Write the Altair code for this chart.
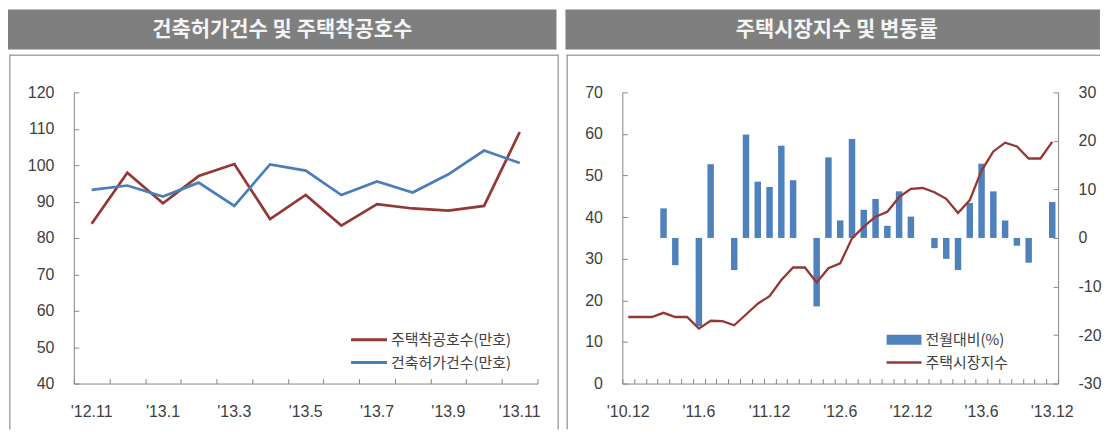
import altair as alt
import pandas as pd

# ---------------- data ----------------
months_left = ["'12.11", "'12.12", "'13.1", "'13.2", "'13.3", "'13.4", "'13.5",
               "'13.6", "'13.7", "'13.8", "'13.9", "'13.10", "'13.11"]
housing_starts = [83.9, 97.9, 89.5, 97.0, 100.3, 85.2, 91.8, 83.4, 89.3, 88.1, 87.5, 88.8, 109.1]
building_permits = [93.2, 94.4, 91.4, 95.2, 88.8, 100.2, 98.5, 91.8, 95.5, 92.5, 97.5, 104.0, 100.6]
left_shown_labels = ["'12.11", "'13.1", "'13.3", "'13.5", "'13.7", "'13.9", "'13.11"]
left_series = ["주택착공호수(만호)", "건축허가건수(만호)"]
left_colors = ["#953735", "#4a7ebb"]
left_y_ticks = [40, 50, 60, 70, 80, 90, 100, 110, 120]

months_right = ["'10.12",
                "'11.1", "'11.2", "'11.3", "'11.4", "'11.5", "'11.6",
                "'11.7", "'11.8", "'11.9", "'11.10", "'11.11", "'11.12",
                "'12.1", "'12.2", "'12.3", "'12.4", "'12.5", "'12.6",
                "'12.7", "'12.8", "'12.9", "'12.10", "'12.11", "'12.12",
                "'13.1", "'13.2", "'13.3", "'13.4", "'13.5", "'13.6",
                "'13.7", "'13.8", "'13.9", "'13.10", "'13.11", "'13.12"]
mom_change = [0, 0, 0, 6.1, -5.6, 0, -18.2, 15.2, 0, -6.6, 21.3, 11.6, 10.5,
              19.0, 11.9, 0, -14.1, 16.6, 3.6, 20.4, 5.8, 8.0, 2.5, 9.6, 4.4,
              0, -2.1, -4.3, -6.6, 7.2, 15.3, 9.6, 3.6, -1.6, -5.1, 0, 7.4]
market_index = [16, 16, 16, 17, 16, 16, 13.2, 15.1, 15, 14, 16.6, 19.2, 21,
                24.9, 27.9, 27.9, 24.3, 27.7, 28.9, 34.9, 37.7, 40.1, 41.3, 44.8, 46.8,
                47.0, 46.0, 44.4, 41.0, 44.1, 51.2, 55.8, 57.9, 57.0, 54.1, 54.1, 58.1]
right_shown_labels = ["'10.12", "'11.6", "'11.12", "'12.6", "'12.12", "'13.6", "'13.12"]
right_series = ["전월대비(%)", "주택시장지수"]
bar_color = "#4f81bd"
line_color = "#953735"
right_left_ticks = [0, 10, 20, 30, 40, 50, 60, 70]
right_right_ticks = [-30, -20, -10, 0, 10, 20, 30]

titles = ["건축허가건수 및 주택착공호수", "주택시장지수 및 변동률"]

# ---------------- styles ----------------
NUM_FONT = "'Liberation Sans', 'Noto Sans CJK KR', sans-serif"
KR_FONT = "'Noto Sans CJK KR', sans-serif"
TXT = "#404040"
AX = "#868686"
HEADER = "#7f7f7f"
BOX = "#a6a6a6"
H = 292
W_L = 465
W_R = 437
PLAIN_NUM = "'' + datum.value"


def label_expr(shown):
    arr = ",".join('"%s"' % s for s in shown)
    return "indexof([" + arr + "], datum.value) >= 0 ? datum.value : ''"


one = pd.DataFrame({"k": [0]})


def deco(x0, x1, box_left, box_right=None):
    layers = [
        alt.Chart(one).mark_rect(color=HEADER).encode(
            x=alt.value(x0), x2=alt.value(x1), y=alt.value(-83), y2=alt.value(-43)),
        alt.Chart(one).mark_rect(color=BOX).encode(
            x=alt.value(box_left), x2=alt.value(box_left + 1.5), y=alt.value(-38), y2=alt.value(338)),
        alt.Chart(one).mark_rect(color=BOX).encode(
            x=alt.value(box_left), x2=alt.value(x1 + 2 if box_right is not None else x1),
            y=alt.value(-38), y2=alt.value(-36.5)),
    ]
    if box_right is not None:
        layers.append(alt.Chart(one).mark_rect(color=BOX).encode(
            x=alt.value(box_right), x2=alt.value(box_right + 1.5), y=alt.value(-38), y2=alt.value(338)))
    return layers


def header_text(text, x):
    return alt.Chart(one).mark_text(
        text=text, font=KR_FONT, fontSize=21, fontWeight="bold", color="#f4f4f4",
        align="center", baseline="middle").encode(x=alt.value(x), y=alt.value(-63))


def legend_text(text, x, y):
    return alt.Chart(one).mark_text(
        text=text, font=KR_FONT, fontSize=15, color=TXT, align="left",
        baseline="middle").encode(x=alt.value(x), y=alt.value(y))


# ---------------- left panel ----------------
df_left = pd.DataFrame({
    "month": months_left * 2,
    "series": [left_series[0]] * len(months_left) + [left_series[1]] * len(months_left),
    "value": housing_starts + building_permits,
})

xs_left = alt.Scale(type="band", paddingInner=0, paddingOuter=0)
ys_left = alt.Scale(domain=[40, 120], nice=False, zero=False)

left_line = alt.Chart(df_left).mark_line(strokeWidth=2.7).encode(
    x=alt.X("month:N", sort=months_left, bandPosition=0.5, scale=xs_left,
            axis=alt.Axis(title=None, orient="bottom", ticks=False, tickSize=0, labelPadding=20,
                          labelAngle=0, labelOverlap=False, labelExpr=label_expr(left_shown_labels),
                          domainColor=AX, domainWidth=1, labelFont=NUM_FONT, labelFontSize=16,
                          labelColor=TXT)),
    y=alt.Y("value:Q", scale=ys_left,
            axis=alt.Axis(title=None, orient="left", values=left_y_ticks, ticks=False, tickSize=0,
                          grid=False, labelPadding=20, domainColor=AX, domainWidth=1,
                          labelFont=NUM_FONT, labelFontSize=16, labelColor=TXT,
                          labelExpr=PLAIN_NUM)),
    color=alt.Color("series:N", scale=alt.Scale(domain=left_series, range=left_colors), legend=None),
)

left_ticks = alt.Chart(df_left).mark_point(opacity=0, size=1).encode(
    x=alt.X("month:N", sort=months_left, scale=xs_left,
            axis=alt.Axis(title=None, orient="top", offset=-H, labels=False, domain=False,
                          tickBand="extent", ticks=True, tickSize=5, tickColor=AX)),
    y=alt.Y("value:Q", scale=ys_left,
            axis=alt.Axis(title=None, orient="right", offset=-W_L, labels=False, domain=False,
                          values=left_y_ticks, ticks=True, tickSize=5, tickColor=AX, grid=False)),
)

left_legend = [
    alt.Chart(one).mark_rule(color=left_colors[0], strokeWidth=3).encode(
        x=alt.value(278), x2=alt.value(314), y=alt.value(248)),
    legend_text(left_series[0], 318, 248),
    alt.Chart(one).mark_rule(color=left_colors[1], strokeWidth=3).encode(
        x=alt.value(278), x2=alt.value(314), y=alt.value(271)),
    legend_text(left_series[1], 318, 271),
]

left = alt.layer(
    *deco(-66, 484, -65, box_right=485),
    header_text(titles[0], 209),
    left_ticks, left_line, *left_legend,
).resolve_axis(x="independent", y="independent").properties(width=W_L, height=H)

# ---------------- right panel ----------------
df_right = pd.DataFrame({"month": months_right, "pct": mom_change, "index": market_index})

xs_right = alt.Scale(type="band", paddingInner=0, paddingOuter=0)
ys_pct = alt.Scale(domain=[-30, 30], nice=False)
ys_idx = alt.Scale(domain=[0, 70], nice=False)

bars = alt.Chart(df_right).mark_bar(color=bar_color, width=alt.RelativeBandSize(0.55)).encode(
    x=alt.X("month:N", sort=months_right, scale=xs_right,
            axis=alt.Axis(title=None, orient="bottom", ticks=False, tickSize=0, labelPadding=20,
                          labelAngle=0, labelOverlap=False, labelExpr=label_expr(right_shown_labels),
                          domainColor=AX, domainWidth=1, labelFont=NUM_FONT, labelFontSize=16,
                          labelColor=TXT)),
    y=alt.Y("pct:Q", scale=ys_pct,
            axis=alt.Axis(title=None, orient="right", values=right_right_ticks, ticks=False, tickSize=0,
                          grid=False, labelPadding=20, domainColor=AX, domainWidth=1,
                          labelFont=NUM_FONT, labelFontSize=16, labelColor=TXT,
                          labelExpr=PLAIN_NUM)),
)

idx_line = alt.Chart(df_right).mark_line(color=line_color, strokeWidth=2.3).encode(
    x=alt.X("month:N", sort=months_right, bandPosition=0.5, scale=xs_right, axis=None),
    y=alt.Y("index:Q", scale=ys_idx,
            axis=alt.Axis(title=None, orient="left", values=right_left_ticks, ticks=False, tickSize=0,
                          grid=False, labelPadding=20, domainColor=AX, domainWidth=1,
                          labelFont=NUM_FONT, labelFontSize=16, labelColor=TXT,
                          labelExpr=PLAIN_NUM)),
)

idx_ticks = alt.Chart(df_right).mark_point(opacity=0, size=1).encode(
    x=alt.X("month:N", sort=months_right, scale=xs_right,
            axis=alt.Axis(title=None, orient="top", offset=-H, labels=False, domain=False,
                          tickBand="extent", ticks=True, tickSize=5, tickColor=AX)),
    y=alt.Y("index:Q", scale=ys_idx,
            axis=alt.Axis(title=None, orient="right", offset=-W_R, labels=False, domain=False,
                          values=right_left_ticks, ticks=True, tickSize=5, tickColor=AX, grid=False)),
)

pct_ticks = alt.Chart(df_right).mark_point(opacity=0, size=1).encode(
    x=alt.X("month:N", sort=months_right, scale=xs_right, axis=None),
    y=alt.Y("pct:Q", scale=ys_pct,
            axis=alt.Axis(title=None, orient="left", offset=-W_R, labels=False, domain=False,
                          values=right_right_ticks, ticks=True, tickSize=5, tickColor=AX, grid=False)),
)

right_legend = [
    alt.Chart(one).mark_rect(color=bar_color).encode(
        x=alt.value(265), x2=alt.value(300), y=alt.value(243), y2=alt.value(253)),
    legend_text(right_series[0], 304, 248),
    alt.Chart(one).mark_rule(color=line_color, strokeWidth=2.5).encode(
        x=alt.value(265), x2=alt.value(300), y=alt.value(271)),
    legend_text(right_series[1], 304, 271),
]

right = alt.layer(
    *deco(-57, 479, -56),
    header_text(titles[1], 215),
    idx_ticks, pct_ticks, bars, idx_line, *right_legend,
).resolve_scale(y="independent").resolve_axis(x="independent", y="independent").properties(
    width=W_R, height=H)

chart = alt.hconcat(left, right, spacing=6).properties(
    padding={"left": 0, "top": 1, "right": 0, "bottom": 0},
    background="white",
).configure_view(strokeWidth=0)

chart.save("out.html", embed_options={"renderer": "svg", "actions": False})
